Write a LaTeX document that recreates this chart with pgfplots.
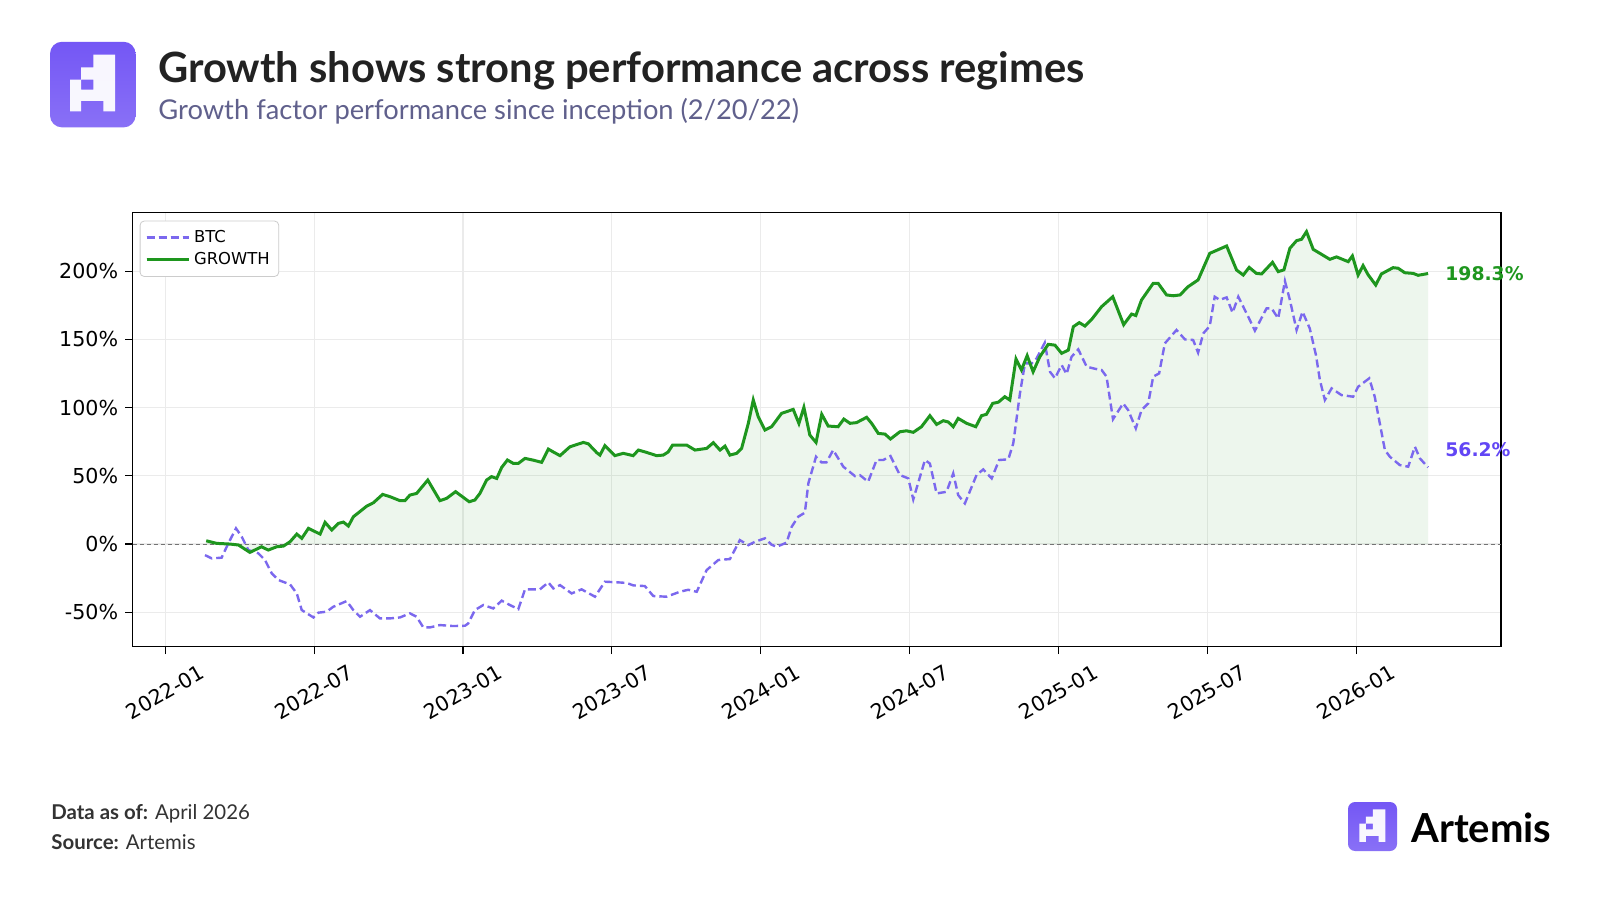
\documentclass[border=0pt]{standalone}
\usepackage{pgfplots}
\pgfplotsset{compat=1.18}
\usepackage{pgfplotstable}
\usepackage{fontspec}
\setmainfont{Lato}
\newfontfamily\dejavu{DejaVu Sans}
\definecolor{gline}{RGB}{30,150,30}
\definecolor{bline}{RGB}{123,104,238}
\definecolor{blabel}{RGB}{98,70,245}
\definecolor{logop}{RGB}{116,87,245}
\definecolor{titlec}{RGB}{34,34,34}
\definecolor{subc}{RGB}{96,96,140}
\definecolor{footc}{RGB}{51,51,51}

\pgfplotstableread{
m v
1.65 2.4
2.07 0.5
2.6 0
2.95 -0.7
3.41 -6.1
3.88 -2
4.15 -4.4
4.49 -2
4.76 -1.5
5.03 1.7
5.3 7.3
5.5 4.2
5.77 11.5
6.24 7.3
6.44 15.9
6.71 10.3
6.97 15.1
7.18 16.1
7.38 13.2
7.58 20
8.12 27.8
8.39 30.3
8.76 36.4
9.06 34.7
9.46 31.8
9.66 31.8
9.86 35.9
10.13 37.1
10.58 46.9
11.07 31.8
11.34 33.5
11.7 38.4
12.25 31
12.48 32.3
12.68 37.1
12.95 46.9
13.15 49.4
13.36 48.1
13.56 56.2
13.79 61.6
14.03 59.1
14.23 59.1
14.5 62.8
14.83 61.5
15.17 59.9
15.44 69.6
15.64 67.5
15.91 64.8
16.31 71.3
16.85 74.5
17.05 73.5
17.39 67
17.52 65.2
17.72 72.1
18.12 64.8
18.46 66.5
18.86 64.8
19.07 68.9
19.4 67.2
19.8 64.8
20.07 65.2
20.27 67.5
20.45 72.6
20.81 72.6
21.01 72.6
21.35 68.9
21.82 70.1
22.09 74.3
22.36 68.9
22.56 71.8
22.76 65.2
23.03 66.5
23.23 70.1
23.5 88.4
23.7 105.6
23.9 93.3
24.17 83.6
24.44 86
24.84 95.8
25.31 98.7
25.54 88.4
25.74 100.2
25.98 79.9
26.23 74.5
26.46 95.1
26.72 86.5
27.12 86
27.35 91.6
27.6 88.5
27.86 89
28.27 92.9
28.47 88.5
28.74 81.1
29.01 80.6
29.23 77
29.61 82.3
29.88 83
30.15 81.9
30.48 86
30.82 94.1
31.09 87.7
31.36 90.4
31.56 89.5
31.76 86
31.96 92.1
32.3 88.5
32.67 86
32.9 94.1
33.1 95.1
33.35 103.1
33.58 104
33.84 108
34.04 105.6
34.29 135.6
34.51 127.6
34.74 138.1
34.98 126.3
35.25 137.3
35.59 146.4
35.86 145.8
36.13 139.8
36.4 142.2
36.6 159.3
36.84 162.3
37.07 159.8
37.34 164.7
37.74 174
38.19 181.3
38.63 160.8
38.95 168.6
39.12 167.5
39.35 178.9
39.82 191.1
40.02 191.1
40.36 182.6
40.63 182
40.9 182.6
41.23 188.7
41.63 193.6
42.1 213.1
42.78 218.5
43.18 200.9
43.45 197.2
43.69 202.8
43.98 198.4
44.19 198
44.63 206.5
44.86 199.7
45.09 201
45.33 216.8
45.6 222.4
45.8 223.4
46 229
46.27 216
46.54 213.1
46.94 208.7
47.21 210.5
47.68 207
47.85 211.2
48.08 197.2
48.28 204.1
48.49 197.2
48.79 189.9
49.02 198
49.49 202.6
49.69 202.2
49.96 198.9
50.3 198.4
50.5 197
50.9 198.3
}\growth

\pgfplotstableread{
m v
1.6 -8.1
1.87 -10.5
2.27 -10
2.54 0.5
2.85 11.5
3.08 5.4
3.35 -4.4
3.75 -6.8
4.02 -11.7
4.29 -21.5
4.56 -26.4
5.03 -29.6
5.3 -36.2
5.5 -48.4
5.97 -53.8
6.17 -50.3
6.5 -49.6
6.77 -46
7.31 -41.8
7.58 -48.4
7.85 -53.3
8.25 -48.4
8.65 -54.5
9.06 -54.5
9.46 -53.8
9.86 -50.8
10.13 -53.3
10.4 -61.1
10.67 -61.1
11.07 -59.4
11.6 -60.1
12.08 -59.9
12.21 -58.2
12.48 -48.4
12.82 -44.7
13.22 -47.2
13.56 -41.5
13.89 -44.7
14.23 -47.7
14.5 -33.2
15.1 -33.2
15.44 -28.1
15.64 -32.5
15.91 -30.1
16.38 -36.2
16.78 -33.2
17.32 -38.6
17.72 -27.6
18.26 -28.1
18.6 -28.5
18.86 -30.3
19.33 -30.8
19.67 -38.1
20.2 -38.6
20.74 -35
21.08 -33.5
21.42 -35
21.82 -19.1
22.29 -11.7
22.76 -11
23.16 2.9
23.5 -0.8
23.77 1.7
24.17 4.2
24.44 -0.5
24.64 -2
25.04 1
25.25 12.7
25.51 20
25.78 23
25.92 44.5
26.23 64
26.45 59.9
26.65 59.9
26.92 68.9
27.33 56.7
27.8 49.8
28.0 50.5
28.33 45.7
28.67 61.6
28.94 61.6
29.23 64.5
29.61 50.6
29.95 48.1
30.15 32.7
30.62 61.6
30.82 59
31.09 37.1
31.49 38.3
31.76 51.8
31.96 35.9
32.23 29.8
32.7 50.6
32.97 54.7
33.31 48.1
33.61 61.6
33.98 62.1
34.18 73.8
34.45 110.5
34.65 132.4
34.92 132.4
35.12 136.1
35.45 147.6
35.66 126.3
35.86 121.5
36.13 131.2
36.33 124.6
36.53 137.3
36.8 142.7
37.14 130
37.47 128.5
37.74 127.6
37.94 122.7
38.2 91.5
38.61 103.1
38.81 98.2
39.12 84.8
39.35 98.2
39.62 103.1
39.82 122.7
40.06 125.1
40.29 147.1
40.76 156.9
41.1 150
41.43 149.6
41.63 140.3
41.84 154.4
42.1 159.8
42.3 181.3
42.5 179
42.78 180.8
43.02 169.6
43.25 181.3
43.65 166.7
43.92 156.4
44.39 172.8
44.59 172.8
44.86 165.4
45.13 192.8
45.33 178.9
45.6 156.9
45.84 170.3
46.13 158.1
46.38 138.6
46.54 120.2
46.74 105.6
47.01 114.1
47.41 109.2
47.88 108
48.08 115.3
48.53 121.5
48.75 108
49.16 68.9
49.36 64
49.76 57.9
50.1 56.7
50.37 71.3
50.57 62.8
50.9 56.2
}\btc

\newcommand{\artlogo}[4]{%
\begin{scope}[shift={(#1,#2)}, x=#3, y=#3]
\shade[top color=logop, bottom color=logop!85!white, rounded corners=#4] (0,0) rectangle (1,1);
\fill[white, opacity=0.95, even odd rule]
 (0.506,0.849) -- (0.760,0.849) -- (0.760,0.187) -- (0.623,0.187) -- (0.623,0.311) -- (0.363,0.311) -- (0.363,0.187) -- (0.234,0.187) -- (0.234,0.557) -- (0.363,0.557) -- (0.363,0.702) -- (0.506,0.702) -- cycle
 (0.363,0.557) rectangle (0.506,0.44);
\end{scope}}

\begin{document}
\begin{tikzpicture}
\fill[white] (0,0) rectangle (800pt,450pt);
% header
\artlogo{25pt}{386.3pt}{42.8pt}{6pt}
\node[anchor=base west, inner sep=0pt, text=titlec, font=\bfseries\fontsize{20.85}{25}\selectfont] at (79pt,408.6pt) {Growth shows strong performance across regimes};
\node[anchor=base west, inner sep=0pt, text=subc, font=\fontsize{13.65}{16}\selectfont] at (79pt,390.3pt) {Growth factor performance since inception (2/20/22)};
% footer
\node[anchor=base west, inner sep=0pt, text=footc, font=\fontsize{10.2}{12}\selectfont] at (25.5pt,40.3pt) {\textbf{Data as of:} April 2026};
\node[anchor=base west, inner sep=0pt, text=footc, font=\fontsize{10.2}{12}\selectfont] at (25.5pt,25.5pt) {\textbf{Source:} Artemis};
\artlogo{674pt}{24.5pt}{24.5pt}{3.5pt}
\node[anchor=base west, inner sep=0pt, text=black, font=\bfseries\fontsize{20}{24}\selectfont] at (705.5pt,29pt) {Artemis};

\begin{axis}[
  at={(66.35pt,126.75pt)}, anchor=south west,
  scale only axis, width=684.15pt, height=216.9pt,
  xmin=-1.314, xmax=53.84, ymin=-75.1, ymax=242.9,
  xtick={0,6,12,18,24,30,36,42,48},
  xticklabels={2022-01,2022-07,2023-01,2023-07,2024-01,2024-07,2025-01,2025-07,2026-01},
  ytick={-50,0,50,100,150,200},
  yticklabels={-50\%,0\%,50\%,100\%,150\%,200\%},
  xtick pos=lower, ytick pos=left,
  tick align=outside, major tick length=3.75pt,
  tick style={black, line width=0.6pt},
  axis line style={black, line width=0.75pt},
  grid=major, grid style={color=black!8, line width=0.6pt},
  tick label style={font=\dejavu\fontsize{10.3}{12}\selectfont},
  xticklabel style={anchor=center, yshift=-19pt, rotate=30},
  clip=false,
  legend cell align=left,
  legend style={at={(0,1)}, anchor=north west, xshift=3.5pt, yshift=-4pt,
    draw=black!20, rounded corners=2pt, fill=white,
    font=\dejavu\fontsize{8.2}{10}\selectfont, row sep=-0.5pt, inner sep=2.5pt},
  legend image code/.code={\draw[#1] (0pt,0pt) -- (18pt,0pt); \path (0pt,0pt) -- (21pt,0pt);},
]
\addplot[draw=none, fill=gline, fill opacity=0.08, forget plot] table[x=m,y=v]{\growth} \closedcycle;
\draw[dashed, black!55, line width=0.5pt, dash pattern=on 2pt off 1.5pt] (axis cs:-1.314,0) -- (axis cs:53.84,0);
\addplot[bline, line width=1.2pt, dash pattern=on 4pt off 2pt] table[x=m,y=v]{\btc};
\addlegendentry{BTC}
\addplot[gline, line width=1.5pt] table[x=m,y=v]{\growth};
\addlegendentry{GROWTH}
\node[anchor=west, inner sep=0pt, text=gline, font=\dejavu\bfseries\fontsize{9.4}{11}\selectfont] at (axis cs:51.58,198.3) {198.3\%};
\node[anchor=west, inner sep=0pt, text=blabel, font=\dejavu\bfseries\fontsize{9.4}{11}\selectfont] at (axis cs:51.58,68.9) {56.2\%};
\end{axis}
\end{tikzpicture}
\end{document}
